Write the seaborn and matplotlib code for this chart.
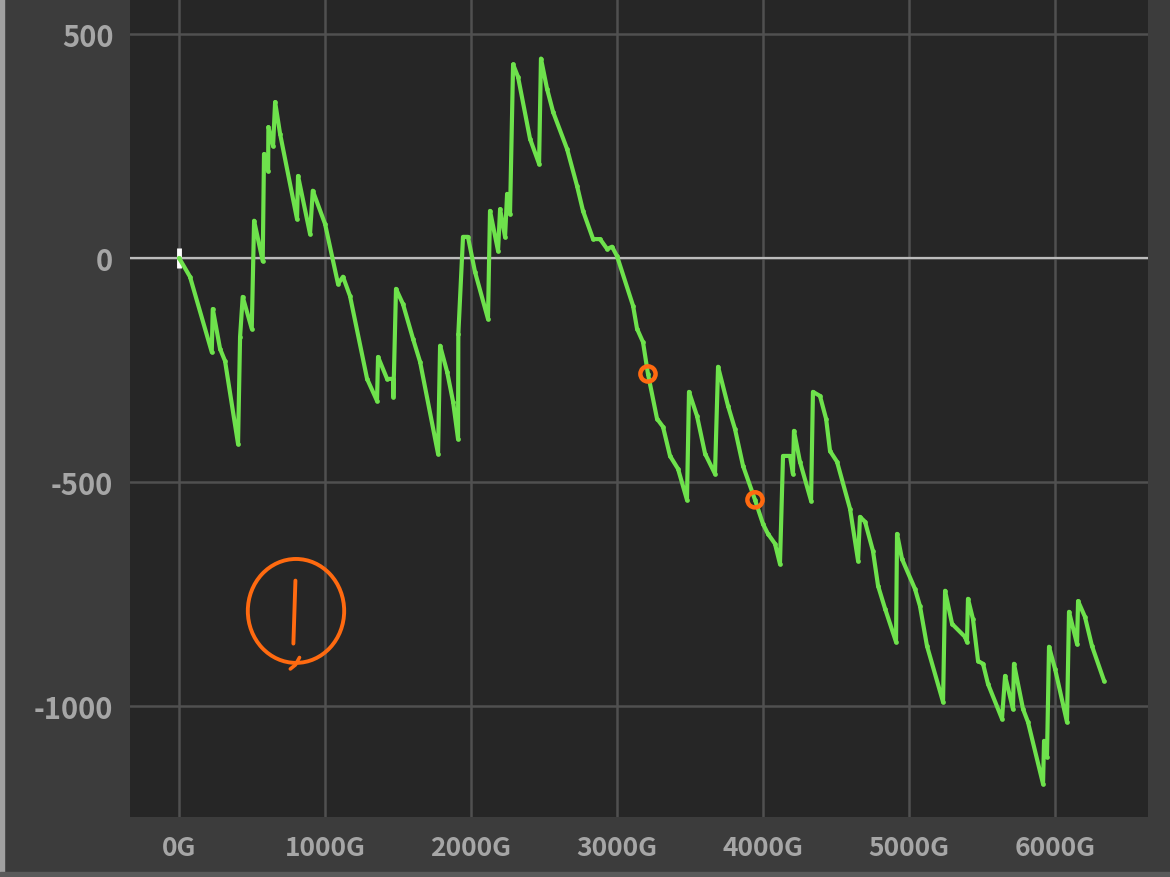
import matplotlib
matplotlib.use("Agg")
import matplotlib.pyplot as plt
import seaborn as sns
import pandas as pd
from matplotlib.patches import Ellipse, Rectangle

gold = [0, 75, 224, 231, 281, 315, 404, 418, 436, 498, 514, 573, 582, 610, 612, 644, 658, 692,
        808, 815, 897, 916, 1000, 1089, 1123, 1171, 1288, 1356, 1363, 1425, 1466, 1468, 1486,
        1534, 1603, 1651, 1774, 1788, 1836, 1877, 1911, 1913, 1945, 1979, 2027, 2116, 2130,
        2185, 2199, 2233, 2247, 2267, 2288, 2322, 2404, 2466, 2479, 2521, 2562, 2658, 2726,
        2767, 2836, 2884, 2932, 2966, 3000, 3110, 3137, 3178, 3212, 3274, 3315, 3363, 3418,
        3479, 3493, 3548, 3603, 3671, 3692, 3760, 3808, 3863, 3945, 4000, 4034, 4082, 4116,
        4137, 4185, 4205, 4212, 4253, 4329, 4342, 4390, 4432, 4459, 4507, 4596, 4651, 4664,
        4699, 4753, 4788, 4836, 4911, 4918, 4952, 5041, 5075, 5123, 5233, 5247, 5295, 5384,
        5397, 5404, 5438, 5473, 5507, 5541, 5637, 5658, 5712, 5719, 5781, 5815, 5918, 5925,
        5945, 5959, 6000, 6082, 6096, 6151, 6158, 6205, 6253, 6336]
balance = [0, -42, -210, -114, -203, -230, -415, -176, -87, -158, 83, -7, 232, 194, 292, 250,
           348, 277, 87, 183, 54, 150, 76, -58, -42, -85, -270, -319, -221, -270, -270, -310,
           -69, -103, -181, -232, -437, -196, -254, -321, -404, -170, 47, 47, -31, -136, 105,
           16, 109, 47, 143, 98, 432, 404, 266, 210, 445, 377, 326, 243, 161, 105, 42, 42, 20,
           25, 4, -107, -158, -188, -259, -359, -377, -442, -471, -540, -299, -353, -437, -482,
           -243, -330, -382, -464, -540, -594, -616, -638, -683, -442, -442, -482, -386, -455,
           -542, -299, -308, -359, -431, -455, -560, -676, -578, -589, -654, -732, -783, -857,
           -616, -672, -739, -777, -866, -991, -743, -817, -846, -857, -761, -806, -900, -906,
           -951, -1029, -933, -1007, -906, -1007, -1036, -1174, -1078, -1114, -868, -917, -1036,
           -790, -862, -766, -801, -866, -944]
marked_gold = [3212, 3945]
marked_balance = [-259, -540]
x_ticks = [0, 1000, 2000, 3000, 4000, 5000, 6000]
x_labels = ["0G", "1000G", "2000G", "3000G", "4000G", "5000G", "6000G"]
y_ticks = [500, 0, -500, -1000]
y_labels = ["500", "0", "-500", "-1000"]

df = pd.DataFrame({"gold": gold, "balance": balance})

sns.set_theme(style="dark")
plt.rcParams["font.family"] = ["Noto Sans CJK JP", "DejaVu Sans"]

fig = plt.figure(figsize=(11.7, 8.78), dpi=100, facecolor="#3c3c3c")
ax = fig.add_axes([130 / 1170, 60 / 878, 1018 / 1170, 818 / 878])
ax.set_facecolor("#262626")

ax.set_xlim(-336, 6637)
ax.set_ylim(-1248, 578)

ax.set_xticks(x_ticks)
ax.set_xticklabels(x_labels)
ax.set_yticks(y_ticks)
ax.set_yticklabels(y_labels)
ax.grid(True, color="#505050", linewidth=1.8)
ax.axhline(0, color="#bcbcbc", linewidth=1.6, zorder=1.5)
for s in ax.spines.values():
    s.set_visible(False)
ax.tick_params(axis="x", length=0, colors="#a6a6a6", labelsize=19, pad=12)
ax.tick_params(axis="y", length=0, colors="#a6a6a6", labelsize=21, pad=12)
for lab in ax.get_xticklabels() + ax.get_yticklabels():
    lab.set_fontweight("bold")

sns.lineplot(data=df, x="gold", y="balance", sort=False, estimator=None, ax=ax,
             color="#6ee24c", linewidth=3.0, marker="o", markersize=3.4,
             markeredgewidth=0, zorder=3)
ax.set_xlabel("")
ax.set_ylabel("")

# start tick
ax.plot([gold[0]], [balance[0]], marker="|", color="white", markersize=14,
        markeredgewidth=3.5, zorder=2.5)

# orange markers
ax.scatter(marked_gold, marked_balance, s=120, facecolors="none",
           edgecolors="#ff6a10", linewidths=3.2, zorder=4)

# hand-drawn annotation
ax.add_patch(Ellipse((801, -788), 660, 232, angle=0, fill=False,
                     edgecolor="#ff6a10", linewidth=2.8, zorder=4))
ax.plot([0.1625, 0.1605], [0.289, 0.212], transform=ax.transAxes,
        color="#ff6a10", linewidth=2.8, zorder=4, solid_capstyle="round")
ax.plot([0.1575, 0.1625, 0.1665], [0.181, 0.186, 0.195], transform=ax.transAxes,
        color="#ff6a10", linewidth=2.6, zorder=4, solid_capstyle="round")

# frame strips
fig.patches.append(Rectangle((0, 0), 4 / 1170, 1, transform=fig.transFigure,
                             color="#a0a0a0", zorder=0))
fig.patches.append(Rectangle((0, 0), 1, 5 / 878, transform=fig.transFigure,
                             color="#5a5a5a", zorder=0))

fig.savefig("out.png", dpi=100, facecolor=fig.get_facecolor())
